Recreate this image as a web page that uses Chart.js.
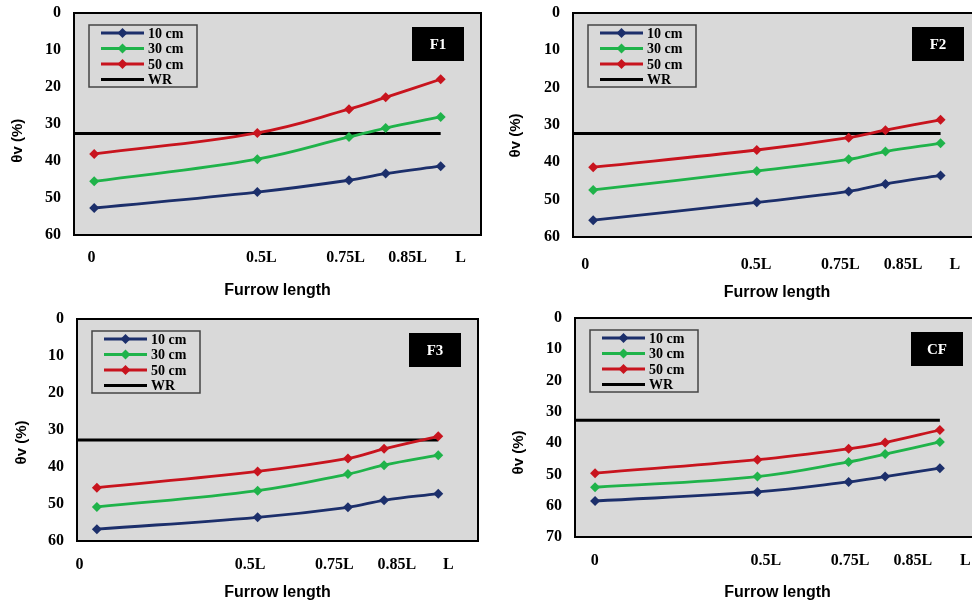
<!DOCTYPE html>
<html>
<head>
<meta charset="utf-8">
<script src="https://cdn.jsdelivr.net/npm/chart.js@4.4.1/dist/chart.umd.min.js"></script>
<style>
  html, body { margin: 0; padding: 0; background: #fff; overflow: hidden; width: 972px; height: 603px; }
  canvas { position: absolute; }
</style>
</head>
<body>
<canvas id="f1" style="left:0;top:0" width="486" height="300"></canvas>
<canvas id="f2" style="left:486px;top:0" width="500" height="300"></canvas>
<canvas id="f3" style="left:0;top:300px" width="486" height="303"></canvas>
<canvas id="cf" style="left:486px;top:300px" width="500" height="303"></canvas>
<script>
// data
const xPoints = [0.055, 0.5, 0.75, 0.85, 1.0];
const wrSpan = [0, 1.0];
const tickLabels = ["0", "0.5L", "0.75L", "0.85L", "L"];

const f1Ticks = [0.048, 0.511, 0.741, 0.910, 1.054];
const f1Cm10 = [52.7, 48.4, 45.2, 43.4, 41.4];
const f1Cm30 = [45.5, 39.5, 33.5, 31.1, 28.1];
const f1Cm50 = [38.1, 32.4, 26.0, 22.8, 17.9];
const f1WR = 32.6;

const f2Ticks = [0.033, 0.498, 0.727, 0.898, 1.039];
const f2Cm10 = [55.5, 50.7, 47.8, 45.8, 43.5];
const f2Cm30 = [47.4, 42.3, 39.2, 37.1, 34.9];
const f2Cm50 = [41.3, 36.7, 33.4, 31.4, 28.6];
const f2WR = 32.3;

const f3Ticks = [0.007, 0.479, 0.712, 0.885, 1.028];
const f3Cm10 = [56.8, 53.6, 50.9, 49.0, 47.2];
const f3Cm30 = [50.8, 46.4, 41.9, 39.5, 36.8];
const f3Cm50 = [45.6, 41.2, 37.7, 35.1, 31.7];
const f3WR = 32.7;

const cfTicks = [0.054, 0.523, 0.754, 0.926, 1.07];
const cfCm10 = [58.5, 55.6, 52.4, 50.7, 48.0];
const cfCm30 = [54.1, 50.7, 46.0, 43.5, 39.6];
const cfCm50 = [49.6, 45.3, 41.8, 39.8, 35.8];
const cfWR = 32.7;

const NAVY = "#1c2f6b", GREEN = "#1fb34a", RED = "#c8141e", PLOT_BG = "#d9d9d9";
const SERIF = '"Liberation Serif", "Times New Roman", serif';
const SANS = '"Liberation Sans", Arial, sans-serif';

// layout of each panel (axis sizes in px); ySpaces nudges the y title down
const panels = [
  { id: "f1", name: "F1", yMax: 60, ticks: f1Ticks, d10: f1Cm10, d30: f1Cm30, d50: f1Cm50, wr: f1WR,
    axisW: 74, axisH: 65, padTop: 13, padRight: 4, tickPad: 13, titlePad: 0, yTitlePad: 9, ySpaces: 8 },
  { id: "f2", name: "F2", yMax: 60, ticks: f2Ticks, d10: f2Cm10, d30: f2Cm30, d50: f2Cm50, wr: f2WR,
    axisW: 87, axisH: 63, padTop: 13, padRight: 5, tickPad: 18, titlePad: -2, yTitlePad: 21, ySpaces: 5 },
  { id: "f3", name: "F3", yMax: 60, ticks: f3Ticks, d10: f3Cm10, d30: f3Cm30, d50: f3Cm50, wr: f3WR,
    axisW: 77, axisH: 62, padTop: 19, padRight: 8, tickPad: 14, titlePad: 1, yTitlePad: 13, ySpaces: 6 },
  { id: "cf", name: "CF", yMax: 70, ticks: cfTicks, d10: cfCm10, d30: cfCm30, d50: cfCm50, wr: cfWR,
    axisW: 89, axisH: 66, padTop: 18, padRight: 6, tickPad: 14, titlePad: 1, yTitlePad: 24, ySpaces: 12 }
];

function toPoints(ys) {
  return ys.map((y, i) => ({ x: xPoints[i], y: y }));
}

function diamond(ctx, x, y, r) {
  ctx.beginPath();
  ctx.moveTo(x, y - r);
  ctx.lineTo(x + r, y);
  ctx.lineTo(x, y + r);
  ctx.lineTo(x - r, y);
  ctx.closePath();
  ctx.fill();
}

// gray plot area, black frame, boxed legend and panel tag
const plotBox = {
  id: "plotBox",
  beforeDraw(chart) {
    const { ctx, chartArea: a } = chart;
    ctx.save();
    ctx.fillStyle = PLOT_BG;
    ctx.fillRect(a.left, a.top, a.right - a.left, a.bottom - a.top);
    ctx.restore();
  },
  afterDraw(chart, args, opts) {
    const { ctx, chartArea: a } = chart;
    ctx.save();
    ctx.strokeStyle = "#000";
    ctx.lineWidth = 2;
    ctx.strokeRect(a.left, a.top, a.right - a.left, a.bottom - a.top);

    // legend
    const lx = a.left + 15, ly = a.top + 12;
    ctx.fillStyle = PLOT_BG;
    ctx.fillRect(lx, ly, 108, 62);
    ctx.strokeStyle = "#444";
    ctx.lineWidth = 1.5;
    ctx.strokeRect(lx, ly, 108, 62);
    ctx.font = "bold 14px " + SERIF;
    ctx.textBaseline = "middle";
    chart.data.datasets.forEach((ds, i) => {
      const y = ly + 8 + i * 15.5;
      ctx.strokeStyle = ds.borderColor;
      ctx.lineWidth = ds.borderWidth;
      ctx.beginPath();
      ctx.moveTo(lx + 12, y);
      ctx.lineTo(lx + 55, y);
      ctx.stroke();
      if (ds.pointRadius > 0) {
        ctx.fillStyle = ds.borderColor;
        diamond(ctx, lx + 33.5, y, 5);
      }
      ctx.fillStyle = "#000";
      ctx.fillText(ds.label, lx + 59, y + 1);
    });

    // panel tag
    const bx = a.right - 17 - 52, by = a.top + 14;
    ctx.fillStyle = "#000";
    ctx.fillRect(bx, by, 52, 34);
    ctx.fillStyle = "#fff";
    ctx.font = "bold 15px " + SERIF;
    ctx.textAlign = "center";
    ctx.fillText(opts.name, bx + 26, by + 18);
    ctx.restore();
  }
};

panels.forEach(p => {
  const lineSet = (label, color, ys) => ({
    label: label,
    data: toPoints(ys),
    borderColor: color,
    backgroundColor: color,
    borderWidth: 2.8,
    pointStyle: "rectRot",
    pointRadius: 5,
    pointBorderWidth: 0,
    tension: 0.4
  });

  new Chart(document.getElementById(p.id), {
    type: "line",
    data: {
      datasets: [
        lineSet("10 cm", NAVY, p.d10),
        lineSet("30 cm", GREEN, p.d30),
        lineSet("50 cm", RED, p.d50),
        {
          label: "WR",
          data: wrSpan.map(x => ({ x: x, y: p.wr })),
          borderColor: "#000",
          backgroundColor: "#000",
          borderWidth: 3,
          pointRadius: 0,
          tension: 0
        }
      ]
    },
    options: {
      responsive: false,
      animation: false,
      devicePixelRatio: 1,
      layout: { padding: { top: p.padTop, right: p.padRight, left: 0, bottom: 0 } },
      plugins: {
        legend: { display: false },
        tooltip: { enabled: false },
        plotBox: { name: p.name }
      },
      scales: {
        x: {
          type: "linear",
          min: 0,
          max: 1.11,
          afterBuildTicks: s => { s.ticks = p.ticks.map(v => ({ value: v })); },
          afterFit: s => { s.height = p.axisH; s.paddingLeft = 0; s.paddingRight = 0; },
          grid: { display: false, drawTicks: false },
          border: { display: false },
          ticks: {
            autoSkip: false,
            maxRotation: 0,
            padding: p.tickPad,
            color: "#000",
            font: { family: SERIF, size: 16, weight: "bold" },
            callback: (v, i) => tickLabels[i]
          },
          title: {
            display: true,
            text: "Furrow length",
            color: "#000",
            font: { family: SANS, size: 16, weight: "bold" },
            padding: { top: 0, bottom: p.titlePad }
          }
        },
        y: {
          reverse: true,
          min: 0,
          max: p.yMax,
          afterFit: s => { s.width = p.axisW; s.paddingTop = 0; s.paddingBottom = 0; },
          grid: { display: false, drawTicks: false },
          border: { display: false },
          ticks: {
            stepSize: 10,
            padding: 13,
            color: "#000",
            font: { family: SERIF, size: 16, weight: "bold" }
          },
          title: {
            display: true,
            text: "θv (%)" + " ".repeat(p.ySpaces),
            color: "#000",
            font: { family: SANS, size: 15, weight: "bold" },
            padding: { top: p.yTitlePad, bottom: 0 }
          }
        }
      }
    },
    plugins: [plotBox]
  });
});
</script>
</body>
</html>
